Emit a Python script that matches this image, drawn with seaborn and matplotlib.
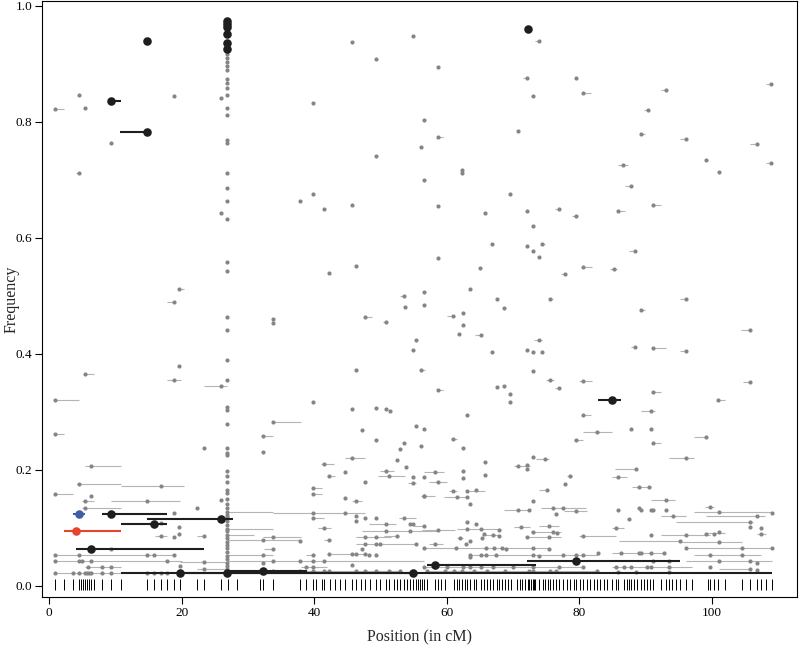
import matplotlib
matplotlib.use("Agg")
import matplotlib.pyplot as plt
import pandas as pd
import seaborn as sns

# gray markers (position in cM, frequency)
gray_pos = [
    0.9, 4.5, 5.4, 9.3, 4.5, 18.8, 26.0, 45.7, 54.9, 49.3,
    39.8, 56.6, 56.1, 49.3, 56.6, 39.8, 37.8, 45.7, 73.9, 58.7,
    72.2, 79.6, 80.6, 73.0, 58.7, 70.8, 62.3, 62.3, 69.5, 109.0,
    93.1, 90.4, 89.3, 96.1, 106.9, 99.2, 101.1, 109.0, 86.7, 87.9,
    91.1, 41.5, 46.3, 42.3, 53.6, 56.6, 53.7, 56.6, 47.7, 50.8,
    33.8, 33.8, 55.4, 54.9, 46.3, 56.1, 39.8, 58.7, 65.8, 72.2,
    76.9, 79.5, 73.0, 66.8, 72.2, 73.0, 74.4, 73.9, 58.7, 65.1,
    80.6, 85.2, 77.8, 63.6, 67.6, 75.6, 68.7, 62.4, 61.0, 62.4,
    61.9, 65.2, 73.9, 66.8, 72.2, 73.0, 74.4, 73.0, 58.7, 67.6,
    68.7, 69.5, 69.5, 75.6, 80.6, 76.9, 85.8, 88.5, 96.1, 89.4,
    105.8, 88.5, 91.1, 96.1, 105.8, 91.1, 101.0, 0.9, 19.6, 18.8,
    19.6, 5.4, 18.8, 26.0, 26.0,
    # lower left
    0.9, 23.4, 6.3, 4.5, 16.9, 0.9, 6.3, 5.4, 14.7, 5.4,
    22.3, 18.8, 16.9, 19.6, 16.9, 18.8, 19.6, 23.4, 9.3, 0.9,
    4.5, 14.7, 15.8, 18.8, 0.9, 4.5, 5.0, 6.3, 17.7, 5.9,
    8.0, 9.3, 0.9, 3.6, 4.5, 5.4, 5.7, 6.0, 6.3, 8.0,
    9.3, 14.7, 15.8, 16.9, 17.8, 19.7, 23.4, 23.4, 26.0,
    # lower middle
    45.7, 49.3, 50.8, 51.4, 33.8, 32.3, 32.3, 47.2, 55.4, 56.6,
    49.3, 53.6, 53.0, 56.1, 45.7, 52.5, 41.5, 44.6, 42.3, 50.8,
    53.9, 51.3, 54.9, 56.6, 47.7, 54.9, 39.8, 39.8, 44.6, 46.3,
    56.6, 39.8, 44.6, 39.8, 46.3, 46.3, 47.7, 49.3, 53.6, 41.5,
    50.8, 54.4, 54.9, 50.8, 54.4, 52.5, 47.7, 49.3, 33.8, 32.3,
    37.8, 42.3, 47.7, 49.3, 50.0, 55.4, 33.8, 47.2, 32.3, 39.8,
    42.3, 45.7, 46.3, 47.7, 48.3, 49.3, 32.3, 33.8, 37.8, 39.8,
    41.5, 38.8, 39.8, 45.7, 33.8, 37.8, 39.8, 41.5, 42.3, 46.3,
    47.7, 49.3, 51.3, 53.0,
    # lower right-middle
    63.1, 80.6, 61.0, 82.7, 62.4, 79.6, 65.8, 73.0, 74.8, 70.7,
    72.2, 72.2, 58.2, 62.4, 65.8, 78.6, 58.7, 62.4, 77.8, 61.0,
    63.1, 64.5, 75.2, 56.6, 61.5, 63.1, 63.6, 73.0, 70.7, 72.4,
    76.1, 77.6, 79.6, 76.5, 63.1, 64.5, 56.6, 58.7, 63.1, 65.2,
    67.9, 71.2, 75.5, 76.1, 76.6, 73.0, 80.6, 65.6, 67.0, 62.0,
    67.9, 72.2, 75.5, 65.4, 63.6, 62.9, 58.2, 56.6, 61.4, 66.0,
    67.1, 68.4, 69.0, 73.0, 75.5, 63.6, 63.6, 65.2, 66.0, 67.5,
    73.0, 74.0, 77.6, 79.6, 80.6, 82.8, 56.6, 58.2, 60.0, 62.4,
    63.6, 65.2, 67.0, 70.0, 73.0, 77.0, 80.6, 57.0, 59.8, 61.1,
    62.3, 64.1, 66.1, 68.8, 72.5, 73.0, 75.6, 76.5, 82.7,
    # lower right
    90.8, 87.9, 90.8, 99.2, 91.1, 96.1, 88.6, 85.8, 89.0, 90.5,
    93.1, 87.5, 85.8, 89.0, 89.4, 90.8, 91.1, 93.1, 94.2, 99.8,
    101.1, 109.1, 106.9, 105.8, 85.5, 105.8, 107.4, 101.1, 100.3, 99.2,
    90.8, 96.1, 107.4, 95.2, 101.1, 96.1, 104.6, 109.1, 86.3, 89.0,
    89.4, 90.8, 92.8, 99.8, 104.6, 91.1, 93.6, 101.1, 105.8, 106.9,
    85.5, 86.8, 87.9, 90.2, 90.8, 93.6, 99.8, 105.8, 106.9, 85.8,
    88.6, 93.6,
]
gray_freq = [
    0.822, 0.846, 0.824, 0.764, 0.712, 0.845, 0.841, 0.937, 0.947, 0.908,
    0.832, 0.803, 0.756, 0.741, 0.699, 0.675, 0.664, 0.657, 0.939, 0.895,
    0.876, 0.876, 0.849, 0.845, 0.774, 0.784, 0.711, 0.717, 0.675, 0.865,
    0.854, 0.820, 0.778, 0.770, 0.762, 0.734, 0.714, 0.728, 0.725, 0.690,
    0.657, 0.650, 0.551, 0.540, 0.500, 0.506, 0.480, 0.485, 0.464, 0.455,
    0.460, 0.453, 0.423, 0.407, 0.373, 0.373, 0.317, 0.654, 0.643, 0.646,
    0.650, 0.637, 0.621, 0.589, 0.585, 0.578, 0.589, 0.567, 0.565, 0.548,
    0.549, 0.547, 0.537, 0.512, 0.495, 0.495, 0.479, 0.470, 0.466, 0.449,
    0.434, 0.433, 0.423, 0.403, 0.407, 0.403, 0.403, 0.371, 0.338, 0.343,
    0.345, 0.331, 0.317, 0.355, 0.354, 0.341, 0.646, 0.577, 0.495, 0.475,
    0.441, 0.412, 0.410, 0.405, 0.351, 0.334, 0.320, 0.320, 0.512, 0.490,
    0.379, 0.365, 0.355, 0.643, 0.344,
    0.262, 0.237, 0.207, 0.176, 0.172, 0.158, 0.155, 0.147, 0.147, 0.135,
    0.135, 0.126, 0.108, 0.101, 0.086, 0.084, 0.090, 0.086, 0.063, 0.053,
    0.053, 0.053, 0.053, 0.053, 0.043, 0.043, 0.043, 0.043, 0.043, 0.032,
    0.032, 0.032, 0.022, 0.022, 0.022, 0.022, 0.022, 0.022, 0.022, 0.022,
    0.022, 0.022, 0.022, 0.022, 0.022, 0.034, 0.041, 0.030, 0.149,
    0.305, 0.306, 0.305, 0.301, 0.282, 0.259, 0.231, 0.268, 0.275, 0.271,
    0.251, 0.246, 0.236, 0.242, 0.221, 0.217, 0.210, 0.197, 0.189, 0.198,
    0.205, 0.189, 0.188, 0.188, 0.180, 0.178, 0.169, 0.158, 0.151, 0.147,
    0.155, 0.126, 0.126, 0.117, 0.121, 0.112, 0.117, 0.117, 0.117, 0.100,
    0.106, 0.106, 0.107, 0.094, 0.094, 0.086, 0.084, 0.084, 0.084, 0.079,
    0.077, 0.079, 0.073, 0.073, 0.073, 0.073, 0.063, 0.063, 0.053, 0.053,
    0.055, 0.055, 0.055, 0.055, 0.053, 0.053, 0.039, 0.043, 0.043, 0.043,
    0.043, 0.033, 0.033, 0.036, 0.026, 0.026, 0.026, 0.026, 0.026, 0.026,
    0.026, 0.026, 0.026, 0.026,
    0.294, 0.294, 0.254, 0.265, 0.238, 0.251, 0.213, 0.222, 0.219, 0.207,
    0.209, 0.201, 0.196, 0.198, 0.192, 0.190, 0.180, 0.186, 0.176, 0.164,
    0.163, 0.165, 0.166, 0.155, 0.153, 0.153, 0.142, 0.147, 0.131, 0.131,
    0.134, 0.134, 0.129, 0.124, 0.110, 0.107, 0.104, 0.096, 0.099, 0.099,
    0.096, 0.101, 0.103, 0.093, 0.091, 0.093, 0.086, 0.089, 0.087, 0.083,
    0.086, 0.084, 0.084, 0.082, 0.078, 0.073, 0.073, 0.065, 0.065, 0.065,
    0.065, 0.065, 0.064, 0.065, 0.064, 0.053, 0.050, 0.053, 0.053, 0.053,
    0.053, 0.052, 0.053, 0.053, 0.054, 0.057, 0.032, 0.032, 0.032, 0.032,
    0.032, 0.032, 0.032, 0.032, 0.032, 0.032, 0.032, 0.026, 0.026, 0.026,
    0.026, 0.026, 0.026, 0.026, 0.026, 0.026, 0.026, 0.026, 0.026,
    0.302, 0.270, 0.270, 0.257, 0.247, 0.221, 0.201, 0.187, 0.171, 0.171,
    0.149, 0.115, 0.131, 0.134, 0.131, 0.131, 0.131, 0.131, 0.120, 0.136,
    0.128, 0.126, 0.120, 0.111, 0.100, 0.101, 0.100, 0.093, 0.090, 0.089,
    0.087, 0.087, 0.090, 0.078, 0.075, 0.065, 0.065, 0.065, 0.056, 0.056,
    0.056, 0.056, 0.056, 0.053, 0.053, 0.043, 0.043, 0.043, 0.043, 0.040,
    0.033, 0.033, 0.033, 0.033, 0.033, 0.033, 0.032, 0.030, 0.027, 0.024,
    0.024, 0.024,
]

# the marker at 26.9 cM carries a whole column of frequencies
column_pos = 26.9
column_freq = [
    0.917, 0.910, 0.903, 0.896, 0.889, 0.874, 0.867, 0.858, 0.846, 0.824,
    0.812, 0.768, 0.764, 0.712, 0.686, 0.664, 0.632, 0.558, 0.543, 0.463,
    0.441, 0.390, 0.355, 0.308, 0.304, 0.279, 0.237, 0.229, 0.225, 0.198,
    0.190, 0.180, 0.165, 0.160, 0.150, 0.142, 0.135, 0.128, 0.122, 0.118,
    0.112, 0.105, 0.099, 0.094, 0.087, 0.082, 0.076, 0.070, 0.065, 0.058,
    0.052, 0.047, 0.040, 0.035, 0.030,
]

# gray intervals (left cM, right cM, frequency)
gray_lo = [
    0.9, 4.0, 73.3, 71.6, 80.6, 58.7, 108.2, 92.3, 89.8, 89.3,
    95.3, 105.8, 108.2, 85.9, 87.0, 91.1, 53.0, 47.7, 50.4, 56.1,
    76.4, 79.0, 74.4, 80.6, 84.7, 77.3, 75.6, 60.1, 64.3, 73.2,
    58.7, 75.0, 80.0, 76.4, 85.8, 87.5, 95.3, 89.4, 104.4, 87.8,
    91.1, 95.3, 104.7, 91.1, 101.0, 0.9, 19.6, 17.7, 5.4, 17.7, 23.4,
    0.9, 5.4, 4.2, 10.8, 0.9, 5.0, 9.3, 5.0, 16.0, 22.3,
    0.9, 0.9, 5.4, 0.9, 22.3, 19.7,
    33.8, 32.3, 44.7, 41.0, 41.9, 50.0, 49.7, 54.2, 39.6, 39.6,
    45.7, 26.9, 33.8, 39.6, 52.8, 40.5, 26.9, 48.3, 47.2, 50.5,
    46.3, 26.9, 32.3, 26.9, 41.5, 46.3, 32.4, 26.9, 38.7, 42.6,
    26.9, 38.0, 33.8,
    80.6, 60.6, 80.6, 79.2, 73.5, 70.2, 56.6, 78.2, 57.3, 60.4,
    63.3, 73.9, 56.2, 59.6, 68.6, 74.3, 77.7, 55.0, 56.3, 61.6,
    70.2, 74.0, 72.7, 80.0, 65.3, 61.6, 72.2, 57.4, 56.6, 63.6,
    56.6, 57.0,
    89.3, 97.3, 91.1, 93.6, 85.4, 85.0, 88.0, 90.8, 92.3, 99.0,
    97.3, 99.2, 94.7, 85.0, 99.2, 92.3, 106.9, 86.0, 95.3, 96.1,
    85.0, 97.3, 96.1, 85.0, 101.1, 85.0,
]
gray_hi = [
    2.2, 4.5, 73.9, 72.2, 81.8, 59.4, 109.0, 93.1, 90.4, 90.0,
    96.1, 106.9, 109.0, 87.4, 87.9, 92.3, 53.6, 48.7, 50.8, 56.8,
    76.9, 79.5, 74.8, 81.9, 85.7, 77.8, 76.0, 61.3, 65.2, 74.4,
    59.4, 76.2, 82.0, 76.9, 86.9, 88.5, 96.1, 90.0, 105.8, 88.5,
    93.1, 96.1, 105.8, 92.3, 102.1, 4.5, 20.4, 18.8, 6.7, 19.9, 26.8,
    2.2, 10.8, 10.8, 20.4, 3.6, 6.7, 19.7, 10.8, 17.8, 23.4,
    18.8, 20.0, 10.8, 10.8, 26.9, 26.9,
    38.0, 33.8, 47.7, 43.0, 43.2, 52.0, 53.7, 55.4, 41.2, 41.2,
    47.2, 33.8, 47.7, 41.5, 55.4, 42.5, 33.8, 52.3, 58.7, 52.8,
    51.6, 30.9, 38.0, 38.0, 42.6, 55.4, 34.0, 33.8, 40.1, 48.0,
    56.6, 42.0, 53.0,
    81.8, 61.5, 85.0, 80.6, 75.5, 72.6, 59.6, 79.0, 60.0, 61.6,
    65.8, 75.5, 58.2, 63.1, 72.6, 81.1, 81.2, 56.6, 61.3, 68.2,
    72.6, 76.9, 77.2, 85.5, 67.9, 62.4, 77.2, 59.4, 75.5, 82.8,
    80.6, 82.7,
    91.4, 99.2, 92.3, 97.3, 88.8, 87.3, 90.8, 94.5, 96.1, 100.3,
    109.1, 108.0, 106.3, 86.8, 102.1, 99.8, 108.2, 95.3, 104.6, 109.1,
    93.0, 107.4, 109.1, 97.0, 105.8, 94.0,
]
gray_seg_freq = [
    0.822, 0.712, 0.939, 0.876, 0.849, 0.774, 0.865, 0.854, 0.820, 0.778,
    0.770, 0.762, 0.728, 0.725, 0.690, 0.657, 0.500, 0.464, 0.455, 0.373,
    0.650, 0.637, 0.589, 0.549, 0.547, 0.537, 0.495, 0.466, 0.433, 0.423,
    0.338, 0.355, 0.354, 0.341, 0.646, 0.577, 0.495, 0.475, 0.441, 0.412,
    0.410, 0.405, 0.351, 0.334, 0.320, 0.320, 0.512, 0.490, 0.365, 0.355, 0.344,
    0.262, 0.207, 0.176, 0.172, 0.158, 0.147, 0.147, 0.135, 0.086, 0.086,
    0.053, 0.043, 0.032, 0.022, 0.030, 0.041,
    0.282, 0.259, 0.221, 0.210, 0.189, 0.198, 0.189, 0.178, 0.169, 0.158,
    0.147, 0.128, 0.126, 0.117, 0.117, 0.100, 0.099, 0.106, 0.094, 0.086,
    0.084, 0.087, 0.084, 0.079, 0.079, 0.073, 0.063, 0.053, 0.053, 0.055,
    0.043, 0.033, 0.026,
    0.294, 0.254, 0.265, 0.251, 0.219, 0.207, 0.196, 0.190, 0.180, 0.164,
    0.164, 0.166, 0.155, 0.153, 0.131, 0.134, 0.129, 0.104, 0.096, 0.099,
    0.101, 0.103, 0.093, 0.086, 0.088, 0.083, 0.084, 0.073, 0.065, 0.053,
    0.032, 0.026,
    0.302, 0.257, 0.247, 0.221, 0.201, 0.187, 0.171, 0.149, 0.120, 0.136,
    0.128, 0.120, 0.111, 0.100, 0.091, 0.087, 0.090, 0.078, 0.075, 0.065,
    0.056, 0.053, 0.043, 0.033, 0.030, 0.024,
]

# highlighted markers
black_pos = [14.7, 9.3, 14.7, 26.9, 26.9, 26.9, 26.9, 26.9, 26.9, 72.3,
             9.3, 26.0, 15.8, 6.3, 85.0, 32.3, 19.7, 26.9, 54.9, 58.2, 79.6]
black_freq = [0.939, 0.836, 0.782, 0.973, 0.968, 0.963, 0.951, 0.935, 0.925, 0.959,
              0.124, 0.115, 0.106, 0.063, 0.320, 0.026, 0.022, 0.022, 0.022, 0.037, 0.043]
black_lo = [9.3, 10.7, 7.9, 14.7, 10.8, 4.0, 82.9, 26.9, 10.8, 19.7, 26.9, 57.1, 72.2]
black_hi = [10.8, 14.7, 17.8, 27.8, 17.8, 23.4, 86.3, 38.9, 27.0, 54.9, 109.1, 73.5, 95.3]
black_seg_freq = [0.836, 0.782, 0.124, 0.115, 0.106, 0.063, 0.320, 0.026, 0.022, 0.022, 0.022, 0.037, 0.043]

blue_pos, blue_freq, blue_lo, blue_hi = [4.5], [0.124], [3.6], [5.4]
red_pos, red_freq, red_lo, red_hi = [4.0], [0.094], [2.2], [10.8]

# marker map positions (rug)
marker_pos = [
    0.86, 2.16, 3.58, 4.49, 4.79, 5.09, 5.44, 5.74, 6.04, 6.34, 6.69, 7.90, 9.32,
    10.77, 14.7, 15.76, 16.87, 17.78, 18.84, 19.68, 22.25, 23.37, 25.98, 26.93,
    28.35, 31.77, 32.28, 33.79, 37.81, 38.82, 39.83, 40.23, 41.24, 41.54, 42.35,
    43.20, 43.96, 44.61, 45.67, 46.27, 47.13, 47.73, 48.49, 49.29, 50.0, 50.80,
    51.31, 52.0, 52.52, 53.02, 53.58, 54.03, 54.43, 54.94, 55.44, 55.74, 56.04,
    56.34, 56.6, 57.0, 58.2, 58.7, 59.1, 59.8, 61.1, 61.5, 61.9, 62.3, 62.7, 63.1,
    63.6, 64.1, 64.5, 65.2, 65.6, 66.1, 66.6, 67.0, 67.6, 67.9, 68.4, 68.8, 69.3,
    69.7, 70.6, 71.0, 71.4, 71.8, 72.3, 72.5, 72.7, 73.0, 73.2, 73.4, 74.0, 74.5,
    74.9, 75.3, 75.6, 76.1, 76.5, 77.0, 77.6, 78.2, 78.6, 79.2, 79.6, 80.1, 80.6,
    81.2, 81.7, 82.2, 82.7, 83.2, 83.7, 84.2, 85.0, 85.5, 85.8, 86.8, 87.2, 87.5,
    87.9, 88.3, 88.8, 89.3, 89.8, 90.2, 90.7, 91.1, 92.3, 93.1, 93.6, 94.1, 94.7,
    95.3, 96.1, 97.0, 99.4, 99.8, 100.3, 101.0, 102.1, 104.6, 105.8, 106.9, 107.5,
    108.2, 109.1,
]

gray = pd.DataFrame({'pos': gray_pos + [column_pos] * len(column_freq),
                     'freq': gray_freq + column_freq})
black = pd.DataFrame({'pos': black_pos, 'freq': black_freq})

sns.set_style("white")
plt.rcParams['font.family'] = ['Liberation Serif', 'DejaVu Serif']

fig = plt.figure(figsize=(8, 6.49), dpi=100)
ax = fig.add_axes([42 / 800, 1 - 597 / 649, 755 / 800, 596 / 649])

# intervals first, points on top
ax.hlines(gray_seg_freq, gray_lo, gray_hi, color='#b4b4b4', lw=0.8, zorder=1)
sns.scatterplot(data=gray, x='pos', y='freq', ax=ax, color='#858585', s=9,
                linewidth=0, zorder=2, legend=False)
ax.vlines(marker_pos, -0.007, 0.012, color='black', lw=0.7, zorder=2)

ax.hlines(black_seg_freq, black_lo, black_hi, color='#1e1e1e', lw=1.5, zorder=3)
sns.scatterplot(data=black, x='pos', y='freq', ax=ax, color='#1e1e1e', s=38,
                linewidth=0, zorder=4, legend=False)

ax.hlines(red_freq, red_lo, red_hi, color='#e8432d', lw=1.5, zorder=3)
sns.scatterplot(x=red_pos, y=red_freq, ax=ax, color='#e8432d', s=38, linewidth=0, zorder=4)
ax.hlines(blue_freq, blue_lo, blue_hi, color='#3f5ea8', lw=1.5, zorder=3)
sns.scatterplot(x=blue_pos, y=blue_freq, ax=ax, color='#3f5ea8', s=38, linewidth=0, zorder=4)

ax.set_xlim(-1.1, 112.9)
ax.set_ylim(-0.019, 1.008)
ax.set_xticks([0, 20, 40, 60, 80, 100])
ax.set_yticks([0.0, 0.2, 0.4, 0.6, 0.8, 1.0])
ax.set_yticklabels(['0.0', '0.2', '0.4', '0.6', '0.8', '1.0'])
ax.tick_params(direction='out', length=5, width=0.8, labelsize=9.5, colors='black',
               bottom=True, left=True, pad=2)
for sp in ax.spines.values():
    sp.set_color('black')
    sp.set_linewidth(0.8)

ax.set_xlabel('Position (in cM)', fontsize=11.5, labelpad=8)
ax.set_ylabel('Frequency', fontsize=11.5)
ax.yaxis.set_label_coords(-22 / 755, 0.5)

fig.savefig('out.png', dpi=100)
